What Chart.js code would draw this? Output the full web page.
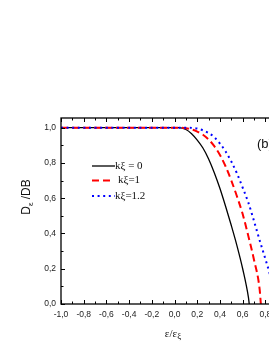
<!DOCTYPE html>
<html>
<head>
<meta charset="utf-8">
<script src="https://cdn.jsdelivr.net/npm/chart.js@4.4.0/dist/chart.umd.min.js"></script>
<style>
  html, body { margin: 0; padding: 0; background: #fff; overflow: hidden; width: 269px; height: 349px; }
  canvas { display: block; }
</style>
</head>
<body>
<canvas id="chart" width="300" height="349"></canvas>
<script>
/* ========= DATA ========= */
const seriesLabels = ["kξ = 0", "kξ=1", "kξ=1.2"];

const blackX = [-1.0, 0.0, 0.035, 0.1, 0.15, 0.2, 0.25, 0.3, 0.35, 0.4, 0.45, 0.5, 0.55, 0.6, 0.65, 0.658];
const blackY = [1.0, 1.0, 1.0, 0.99, 0.966, 0.93, 0.885, 0.823, 0.745, 0.655, 0.553, 0.445, 0.33, 0.2, 0.04, 0.0];

const redX = [-1.0, 0.0, 0.05, 0.1, 0.15, 0.2, 0.25, 0.3, 0.35, 0.4, 0.45, 0.5, 0.55, 0.6, 0.65, 0.7, 0.75, 0.76];
const redY = [1.0, 1.0, 1.0, 0.997, 0.99, 0.978, 0.96, 0.933, 0.895, 0.845, 0.78, 0.7, 0.61, 0.51, 0.385, 0.25, 0.08, 0.0];

const blueX = [-1.0, 0.0, 0.1, 0.2, 0.25, 0.3, 0.35, 0.4, 0.45, 0.5, 0.55, 0.6, 0.65, 0.7, 0.75, 0.8, 0.85, 0.89];
const blueY = [1.0, 1.0, 1.0, 0.995, 0.985, 0.97, 0.946, 0.91, 0.865, 0.808, 0.74, 0.66, 0.575, 0.47, 0.36, 0.255, 0.14, 0.0];

const xTickValues = [-1.0, -0.8, -0.6, -0.4, -0.2, 0.0, 0.2, 0.4, 0.6, 0.8, 1.0];
const xTickLabels = ["-1,0", "-0,8", "-0,6", "-0,4", "-0,2", "0,0", "0,2", "0,4", "0,6", "0,8", "1,0"];
const yTickValues = [0.0, 0.2, 0.4, 0.6, 0.8, 1.0];
const yTickLabels = ["0,0", "0,2", "0,4", "0,6", "0,8", "1,0"];

const toPoints = (xs, ys) => xs.map((x, i) => ({ x: x, y: ys[i] }));

/* ========= DECORATION (frame, inner ticks, titles, legend) ========= */
const SANS = "'Liberation Sans', Arial, sans-serif";
const SERIF = "'Liberation Serif', 'Times New Roman', serif";

const deco = {
  id: "deco",
  afterDraw(chart) {
    const ctx = chart.ctx;
    const a = chart.chartArea;
    const xs = chart.scales.x, ys = chart.scales.y;
    ctx.save();

    // frame
    ctx.strokeStyle = "#000";
    ctx.lineWidth = 1.3;
    ctx.strokeRect(a.left, a.top, a.right - a.left, a.bottom - a.top);

    // inner ticks, major + minor
    ctx.lineWidth = 1;
    ctx.beginPath();
    xTickValues.forEach((v, i) => {
      const px = Math.round(xs.getPixelForValue(v)) + 0.5;
      ctx.moveTo(px, a.bottom); ctx.lineTo(px, a.bottom - 4);
      ctx.moveTo(px, a.top); ctx.lineTo(px, a.top + 4);
      if (i < xTickValues.length - 1) {
        const m = Math.round(xs.getPixelForValue((v + xTickValues[i + 1]) / 2)) + 0.5;
        ctx.moveTo(m, a.bottom); ctx.lineTo(m, a.bottom - 2.5);
        ctx.moveTo(m, a.top); ctx.lineTo(m, a.top + 2.5);
      }
    });
    yTickValues.forEach((v, i) => {
      const py = Math.round(ys.getPixelForValue(v)) + 0.5;
      ctx.moveTo(a.left, py); ctx.lineTo(a.left + 4, py);
      ctx.moveTo(a.right, py); ctx.lineTo(a.right - 4, py);
      if (i < yTickValues.length - 1) {
        const m = Math.round(ys.getPixelForValue((v + yTickValues[i + 1]) / 2)) + 0.5;
        ctx.moveTo(a.left, m); ctx.lineTo(a.left + 2.5, m);
        ctx.moveTo(a.right, m); ctx.lineTo(a.right - 2.5, m);
      }
    });
    ctx.stroke();

    // y title: D_ε /DB
    ctx.fillStyle = "#111";
    ctx.save();
    ctx.translate(30, 197);
    ctx.rotate(-Math.PI / 2);
    ctx.textBaseline = "alphabetic";
    ctx.font = "12px " + SANS;
    const w1 = ctx.measureText("D").width;
    ctx.font = "8px " + SANS;
    const w2 = ctx.measureText("ε").width;
    ctx.font = "12px " + SANS;
    const w3 = ctx.measureText(" /DB").width;
    let sx = -(w1 + w2 + w3) / 2;
    ctx.fillText("D", sx, 0); sx += w1;
    ctx.font = "8px " + SANS;
    ctx.fillText("ε", sx, 3); sx += w2;
    ctx.font = "12px " + SANS;
    ctx.fillText(" /DB", sx, 0);
    ctx.restore();

    // x title: ε/ε_ξ
    ctx.font = "11px " + SERIF;
    const t1 = ctx.measureText("ε/ε").width;
    ctx.font = "9px " + SERIF;
    const t2 = ctx.measureText("ξ").width;
    const tx = 173 - (t1 + t2) / 2;
    ctx.font = "11px " + SERIF;
    ctx.fillText("ε/ε", tx, 337);
    ctx.font = "9px " + SERIF;
    ctx.fillText("ξ", tx + t1, 339);

    // panel tag
    ctx.font = "13px " + SANS;
    ctx.fillText("(b)", 257, 148);

    // legend
    const rows = [166, 180.5, 196];
    chart.data.datasets.forEach((ds, i) => {
      const y = rows[i];
      ctx.strokeStyle = ds.borderColor;
      ctx.lineWidth = ds.borderWidth;
      ctx.setLineDash(ds.borderDash || []);
      ctx.beginPath();
      ctx.moveTo(92, y); ctx.lineTo(i === 1 ? 110 : 115, y);
      ctx.stroke();
      ctx.setLineDash([]);
      ctx.fillStyle = "#111";
      ctx.font = "11px " + SERIF;
      ctx.textBaseline = "middle";
      ctx.fillText(ds.label, i === 1 ? 118 : 115, y);
    });

    ctx.restore();
  }
};

/* ========= CHART ========= */
const tickFont = { family: SANS, size: 8.5 };

new Chart(document.getElementById("chart"), {
  type: "line",
  data: {
    datasets: [
      {
        label: seriesLabels[0], data: toPoints(blackX, blackY),
        borderColor: "#000000", borderWidth: 1.3, order: 3
      },
      {
        label: seriesLabels[1], data: toPoints(redX, redY),
        borderColor: "#ff0000", borderWidth: 2, borderDash: [7, 4], order: 2
      },
      {
        label: seriesLabels[2], data: toPoints(blueX, blueY),
        borderColor: "#0000ff", borderWidth: 2, borderDash: [2, 3.6], order: 1
      }
    ]
  },
  options: {
    responsive: false,
    animation: false,
    events: [],
    layout: { padding: { left: 0, top: 118, right: 9, bottom: 0 } },
    elements: {
      point: { radius: 0 },
      line: { cubicInterpolationMode: "monotone", fill: false }
    },
    plugins: { legend: { display: false }, tooltip: { enabled: false } },
    scales: {
      x: {
        type: "linear",
        min: -1.0, max: 1.0,
        afterFit: s => { s.height = 45; },
        afterBuildTicks: s => { s.ticks = xTickValues.map(v => ({ value: v })); },
        grid: { display: false, drawTicks: false },
        border: { display: false },
        ticks: {
          autoSkip: false, maxRotation: 0, padding: 6,
          color: "#222", font: tickFont,
          callback: v => xTickLabels[xTickValues.findIndex(t => Math.abs(t - v) < 1e-6)]
        }
      },
      y: {
        type: "linear",
        min: 0, max: 1.055,
        afterFit: s => { s.width = 61; },
        afterBuildTicks: s => { s.ticks = yTickValues.map(v => ({ value: v })); },
        grid: { display: false, drawTicks: false },
        border: { display: false },
        ticks: {
          padding: 5, color: "#222", font: tickFont,
          callback: v => yTickLabels[yTickValues.findIndex(t => Math.abs(t - v) < 1e-6)]
        }
      }
    }
  },
  plugins: [deco]
});
</script>
</body>
</html>
